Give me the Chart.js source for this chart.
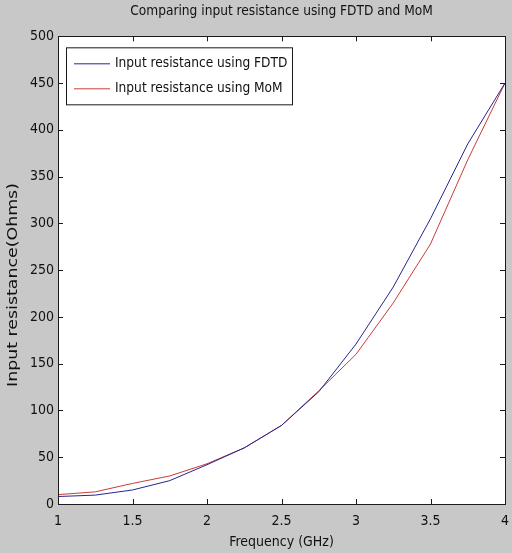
<!DOCTYPE html>
<html>
<head>
<meta charset="utf-8">
<script src="https://cdn.jsdelivr.net/npm/chart.js@4/dist/chart.umd.min.js"></script>
<style>
  html, body { margin: 0; padding: 0; background: #c8c8c8; }
  #wrap { width: 512px; height: 553px; }
</style>
</head>
<body>
<div id="wrap"><canvas id="chart" width="512" height="553"></canvas></div>
<script>
// values
const frequency = [1, 1.25, 1.5, 1.75, 2, 2.25, 2.5, 2.75, 3, 3.25, 3.5, 3.75, 4];
const fdtdResistance = [8, 9.5, 15, 25, 42, 60, 84, 120, 171, 232, 305, 385, 450];
const momResistance = [10, 13, 22, 30, 43, 60, 84, 121, 160, 215, 278, 368, 450];
const seriesLabels = ['Input resistance using FDTD', 'Input resistance using MoM'];
const xTicks = [1, 1.5, 2, 2.5, 3, 3.5, 4];
const yTicks = [0, 50, 100, 150, 200, 250, 300, 350, 400, 450, 500];
const yTitle = 'Input resistance(Ohms)';

const FONT = "'DejaVu Sans Condensed', 'Liberation Sans Narrow', 'Liberation Sans', Arial, sans-serif";
const BLUE = '#262690';
const RED = '#c83c3c';

const toPoints = (ys) => frequency.map((f, i) => ({ x: f, y: ys[i] }));

// gray figure background + white axes area
const backgroundPlugin = {
  id: 'matlabBg',
  beforeDraw(chart) {
    const { ctx, chartArea: a } = chart;
    ctx.save();
    ctx.fillStyle = '#c8c8c8';
    ctx.fillRect(0, 0, chart.width, chart.height);
    ctx.fillStyle = '#ffffff';
    ctx.fillRect(a.left, a.top, a.right - a.left, a.bottom - a.top);
    ctx.restore();
  }
};

// box around the axes with inward ticks on all four sides, plus the stretched y label
const boxPlugin = {
  id: 'matlabBox',
  afterDraw(chart) {
    const { ctx, chartArea: a, scales } = chart;
    const len = 5;
    ctx.save();
    ctx.strokeStyle = '#1a1a1a';
    ctx.lineWidth = 1;
    ctx.beginPath();
    xTicks.forEach(v => {
      const x = Math.round(scales.x.getPixelForValue(v)) + 0.5;
      ctx.moveTo(x, a.bottom); ctx.lineTo(x, a.bottom - len);
      ctx.moveTo(x, a.top); ctx.lineTo(x, a.top + len);
    });
    yTicks.forEach(v => {
      const y = Math.round(scales.y.getPixelForValue(v)) + 0.5;
      ctx.moveTo(a.left, y); ctx.lineTo(a.left + len, y);
      ctx.moveTo(a.right, y); ctx.lineTo(a.right - len, y);
    });
    ctx.stroke();
    ctx.strokeRect(Math.round(a.left) + 0.5, Math.round(a.top) + 0.5,
      Math.round(a.right - a.left), Math.round(a.bottom - a.top));

    // y label: the source image was squeezed sideways, so the rotated text runs longer
    ctx.translate(13, 285);
    ctx.rotate(-Math.PI / 2);
    ctx.scale(1.38, 1);
    ctx.font = '14px ' + FONT;
    ctx.fillStyle = '#111111';
    ctx.textAlign = 'center';
    ctx.textBaseline = 'middle';
    ctx.fillText(yTitle, 0, 0);
    ctx.restore();
  }
};

// legend box in the upper left of the axes
const legendPlugin = {
  id: 'matlabLegend',
  afterDatasetsDraw(chart) {
    const { ctx, chartArea: a } = chart;
    const x0 = a.left + 8, y0 = a.top + 11;
    const w = 226, h = 57;
    ctx.save();
    ctx.fillStyle = '#ffffff';
    ctx.fillRect(x0, y0, w, h);
    ctx.strokeStyle = '#1a1a1a';
    ctx.lineWidth = 1;
    ctx.strokeRect(x0 + 0.5, y0 + 0.5, w, h);
    ctx.font = '13.6px ' + FONT;
    ctx.textBaseline = 'middle';
    chart.data.datasets.forEach((ds, i) => {
      const y = y0 + 16 + i * 25;
      ctx.strokeStyle = ds.borderColor;
      ctx.beginPath();
      ctx.moveTo(x0 + 8, y + 0.5);
      ctx.lineTo(x0 + 44, y + 0.5);
      ctx.stroke();
      ctx.fillStyle = '#111111';
      ctx.fillText(ds.label, x0 + 49, y);
    });
    ctx.restore();
  }
};

new Chart(document.getElementById('chart'), {
  type: 'line',
  data: {
    datasets: [
      {
        label: seriesLabels[0],
        data: toPoints(fdtdResistance),
        borderColor: BLUE,
        borderWidth: 1,
        pointRadius: 0,
        tension: 0,
        fill: false
      },
      {
        label: seriesLabels[1],
        data: toPoints(momResistance),
        borderColor: RED,
        borderWidth: 1,
        pointRadius: 0,
        tension: 0,
        fill: false
      }
    ]
  },
  options: {
    responsive: false,
    animation: false,
    layout: { padding: { left: 0, right: 7, top: 0, bottom: 0 } },
    plugins: {
      legend: { display: false },
      tooltip: { enabled: false },
      title: {
        display: true,
        fullSize: false,
        text: 'Comparing input resistance using FDTD and MoM',
        color: '#111111',
        font: { family: FONT, size: 13.6, weight: 'normal' },
        padding: { top: 3, bottom: 17 }
      }
    },
    scales: {
      x: {
        type: 'linear',
        min: 1,
        max: 4,
        afterFit(scale) {
          scale.height = 49;
          scale.paddingLeft = 0;
          scale.paddingRight = 0;
        },
        afterBuildTicks(scale) { scale.ticks = xTicks.map(v => ({ value: v })); },
        grid: { display: false, drawTicks: false, tickLength: 0 },
        border: { display: false },
        ticks: {
          color: '#111111',
          padding: 9,
          font: { family: FONT, size: 14 },
          maxRotation: 0,
          callback: (v) => String(v)
        },
        title: {
          display: true,
          text: 'Frequency (GHz)',
          color: '#111111',
          font: { family: FONT, size: 14 },
          padding: { top: 0, bottom: 2 }
        }
      },
      y: {
        min: 0,
        max: 500,
        afterFit(scale) { scale.width = 58; },
        afterBuildTicks(scale) { scale.ticks = yTicks.map(v => ({ value: v })); },
        grid: { display: false, drawTicks: false, tickLength: 0 },
        border: { display: false },
        ticks: {
          color: '#111111',
          padding: 4,
          font: { family: FONT, size: 14 },
          callback: (v) => String(v)
        },
        title: { display: false }
      }
    }
  },
  plugins: [backgroundPlugin, boxPlugin, legendPlugin]
});
</script>
</body>
</html>
